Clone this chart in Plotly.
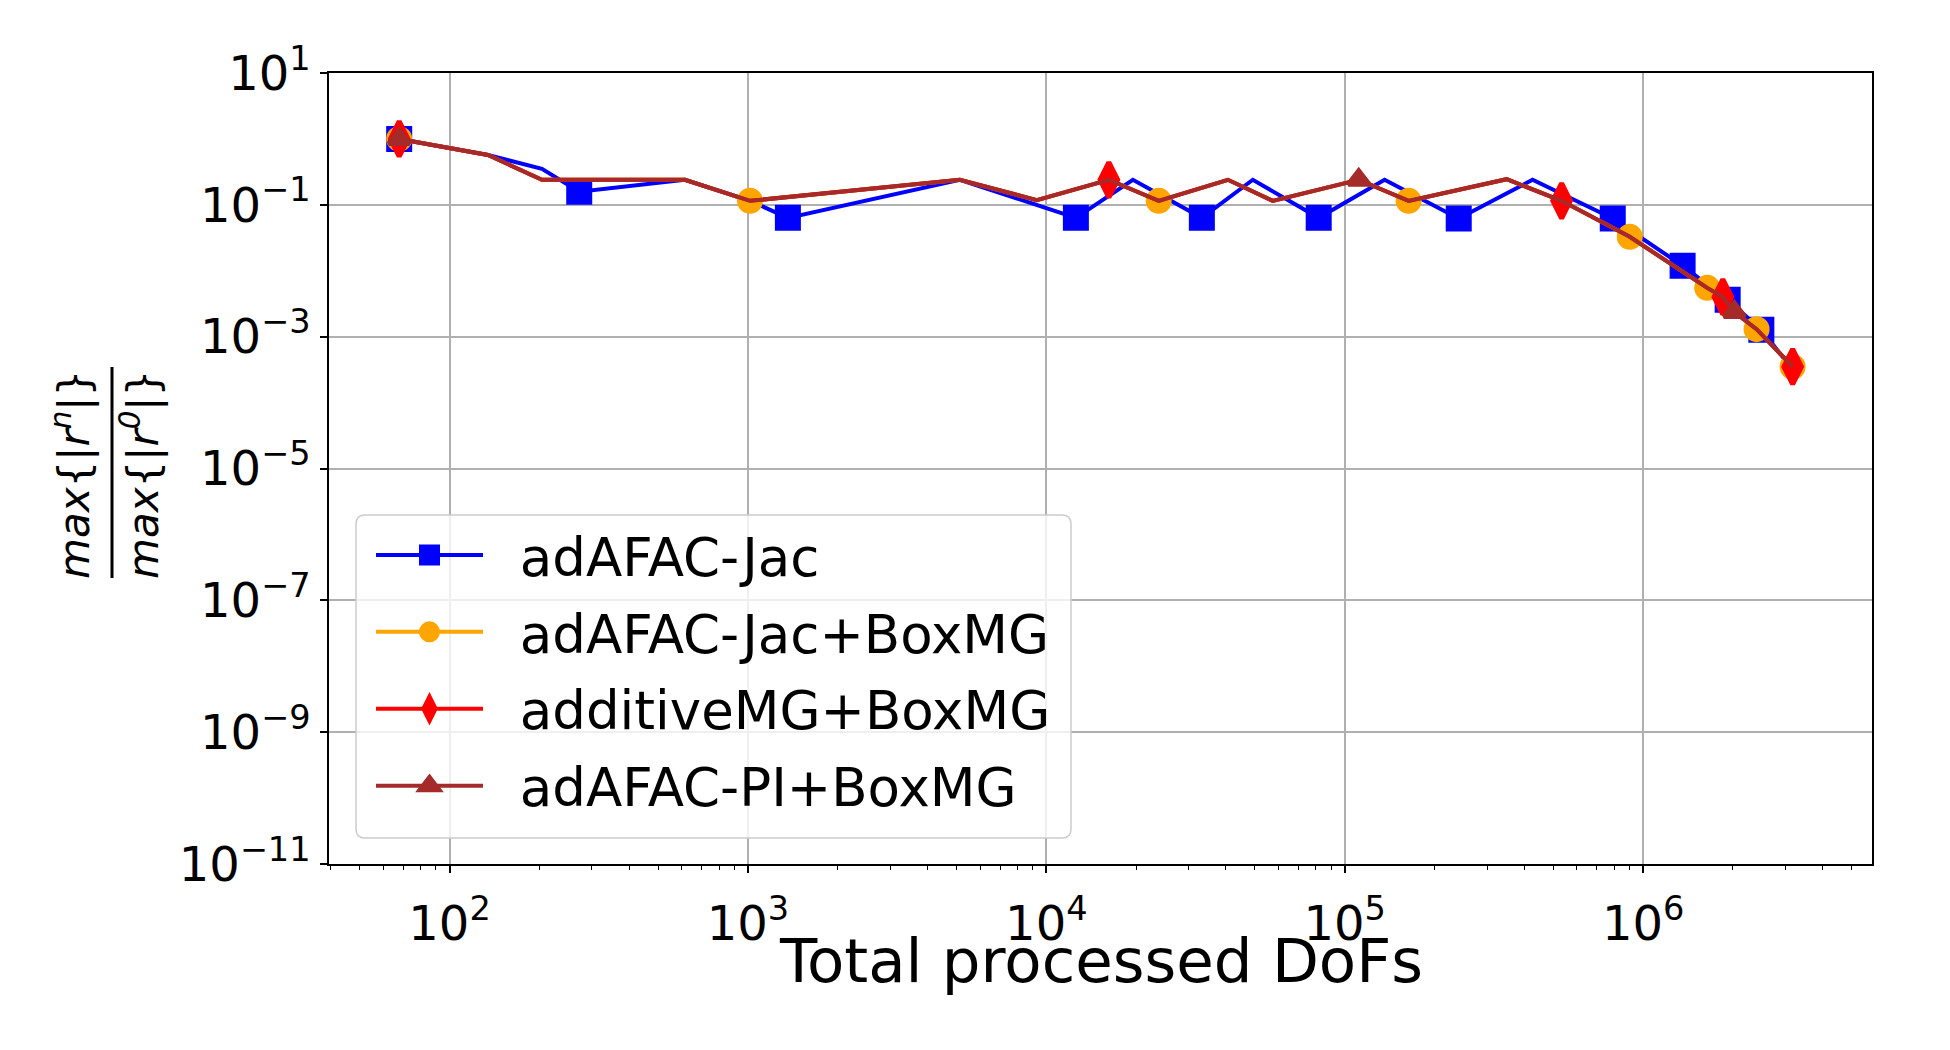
import plotly.graph_objects as go

# ---------------- data ----------------
# adAFAC-Jac
x_jac = [67.8, 134.5, 204, 272, 615, 1016, 1361, 5130, 12560, 19500, 33200,
         49200, 81800, 136000, 241000, 426000, 791000, 1.356e6, 1.92e6, 2.49e6, 3.15e6]
y_jac = [1.0, 0.57, 0.352, 0.158, 0.24, 0.115, 0.0635, 0.24, 0.0635, 0.24, 0.0635,
         0.24, 0.0635, 0.24, 0.062, 0.24, 0.062, 0.0119, 0.00363, 0.00127, 3.3e-4]
mark_jac = [0, 3, 6, 8, 10, 12, 14, 16, 17, 18, 19]

# BoxMG-based variants (their curves coincide)
x_boxmg = [67.8, 134.5, 204, 615, 1016, 5130, 9290, 16200, 23800, 40600, 57400,
           111400, 163700, 349000, 533000, 902000, 1.64e6, 1.85e6, 2.02e6, 2.40e6, 3.17e6]
y_boxmg = [1.0, 0.57, 0.24, 0.24, 0.115, 0.24, 0.118, 0.24, 0.115, 0.24, 0.115,
           0.24, 0.115, 0.245, 0.115, 0.0327, 0.0055, 0.0040, 0.00237, 0.0013, 3.5e-4]
mark_jac_boxmg = [0, 4, 8, 12, 15, 16, 19, 20]
mark_additive = [0, 7, 14, 17, 20]
mark_pi = [0, 11, 18]

series_names = ["adAFAC-Jac", "adAFAC-Jac+BoxMG", "additiveMG+BoxMG", "adAFAC-PI+BoxMG"]
series_colors = ["#0000ff", "#ffa500", "#ff0000", "#a52a2a"]
series_symbols = ["square", "circle", "diamond-tall", "triangle-up"]
series_sizes = [21, 21, 25, 18]

x_tick_vals = [1e2, 1e3, 1e4, 1e5, 1e6]
x_tick_text = ["10<sup>2</sup>", "10<sup>3</sup>", "10<sup>4</sup>", "10<sup>5</sup>", "10<sup>6</sup>"]
y_tick_vals = [1e1, 1e-1, 1e-3, 1e-5, 1e-7, 1e-9, 1e-11]
y_tick_text = ["10<sup>1</sup>", "10<sup>−1</sup>", "10<sup>−3</sup>", "10<sup>−5</sup>",
               "10<sup>−7</sup>", "10<sup>−9</sup>", "10<sup>−11</sup>"]
x_title = "Total processed DoFs"

FONT = "DejaVu Sans"
LEGEND_PAD = "\u2002\u200a"   # gap between legend symbol and label

data_sets = [
    (x_jac, y_jac, mark_jac),
    (x_boxmg, y_boxmg, mark_jac_boxmg),
    (x_boxmg, y_boxmg, mark_additive),
    (x_boxmg, y_boxmg, mark_pi),
]

fig = go.Figure()
for i, (xs, ys, marks) in enumerate(data_sets):
    fig.add_trace(go.Scatter(
        x=xs, y=ys, mode="lines+markers", name=LEGEND_PAD + series_names[i],
        legendgroup=f"g{i}",
        line=dict(color=series_colors[i], width=4),
        marker=dict(symbol=series_symbols[i], size=series_sizes[i], color=series_colors[i],
                    line=dict(color=series_colors[i], width=5)),
        selectedpoints=marks,
        selected=dict(marker=dict(opacity=1)),
        unselected=dict(marker=dict(opacity=0)),
    ))

# plot area in pixels: left 329, right 1872, top 73, bottom 864
L, R, T, B = 329, 1872, 73, 864
W, H = 1950, 1050
pw, ph = R - L, B - T

def px(xp):
    return (xp - L) / pw

def py(yp):
    return (B - yp) / ph

minor_vals = [k * 10 ** e for e in range(1, 7) for k in range(2, 10)]

fig.update_layout(
    width=W, height=H,
    margin=dict(l=L, r=W - R, t=T, b=H - B, autoexpand=False),
    paper_bgcolor="white", plot_bgcolor="white",
    font=dict(family=FONT, color="black"),
    showlegend=True,
    legend=dict(
        x=px(371), y=py(514), xanchor="left", yanchor="top",
        bgcolor="rgba(0,0,0,0)", borderwidth=0,
        font=dict(family=FONT, size=53, color="black"),
        itemwidth=107, tracegroupgap=5, traceorder="grouped",
    ),
    xaxis=dict(
        type="log", range=[1.596, 6.767],
        tickmode="array", tickvals=x_tick_vals, ticktext=x_tick_text,
        ticks="outside", ticklen=7, tickwidth=1.6, tickcolor="black",
        ticklabelstandoff=10,
        tickfont=dict(family=FONT, size=48, color="black"),
        showgrid=True, gridcolor="#b0b0b0", gridwidth=1.6,
        showline=True, linecolor="black", linewidth=1.6, mirror=True,
        zeroline=False,
        minor=dict(tickmode="array", tickvals=minor_vals, ticks="outside",
                   ticklen=4, tickwidth=1.2, tickcolor="black", showgrid=False),
    ),
    yaxis=dict(
        type="log", range=[-11, 1],
        tickmode="array", tickvals=y_tick_vals, ticktext=y_tick_text,
        ticks="outside", ticklen=7, tickwidth=1.6, tickcolor="black",
        tickfont=dict(family=FONT, size=48, color="black"),
        showgrid=True, gridcolor="#b0b0b0", gridwidth=1.6,
        showline=True, linecolor="black", linewidth=1.6, mirror=True,
        zeroline=False,
    ),
)

# legend frame (rounded, semi-transparent) behind the legend entries
bx0, bx1, by0, by1, rr = 356, 1071, 515, 838, 9
pts = [
    ("M", bx0 + rr, by0), ("L", bx1 - rr, by0), ("Q", bx1, by0, bx1, by0 + rr),
    ("L", bx1, by1 - rr), ("Q", bx1, by1, bx1 - rr, by1),
    ("L", bx0 + rr, by1), ("Q", bx0, by1, bx0, by1 - rr),
    ("L", bx0, by0 + rr), ("Q", bx0, by0, bx0 + rr, by0),
]
path = ""
for p in pts:
    cmd = p[0]
    coords = p[1:]
    segs = []
    for k in range(0, len(coords), 2):
        segs.append(f"{px(coords[k]):.5f},{py(coords[k + 1]):.5f}")
    path += cmd + " ".join(segs) + " "
path += "Z"
fig.add_shape(type="path", path=path, xref="paper", yref="paper", layer="above",
              fillcolor="rgba(255,255,255,0.8)", line=dict(color="#cccccc", width=1.5))

# x-axis title
fig.add_annotation(
    text=x_title, xref="paper", yref="paper", x=0.5, y=py(960),
    xanchor="center", yanchor="middle", showarrow=False,
    font=dict(family=FONT, size=61, color="black"),
)

# y-axis label drawn as a fraction
fig.add_annotation(
    text="<i>max</i>{|<i>r<sup>n</sup></i>|}", textangle=-90,
    xref="paper", yref="paper", x=px(72), y=py(475), xanchor="center", yanchor="middle",
    showarrow=False, font=dict(family=FONT, size=42, color="black"),
)
fig.add_annotation(
    text="<i>max</i>{|<i>r<sup>0</sup></i>|}", textangle=-90,
    xref="paper", yref="paper", x=px(141), y=py(475), xanchor="center", yanchor="middle",
    showarrow=False, font=dict(family=FONT, size=42, color="black"),
)
fig.add_shape(type="line", xref="paper", yref="paper",
              x0=px(112), x1=px(112), y0=py(367), y1=py(578),
              line=dict(color="black", width=3))

fig.write_html("out.html")
